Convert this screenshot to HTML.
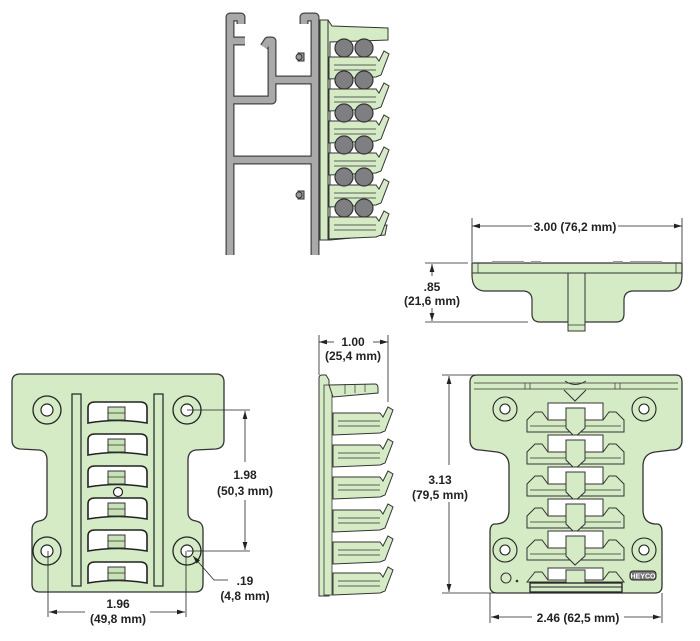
<!DOCTYPE html>
<html><head><meta charset="utf-8"><style>
html,body{margin:0;padding:0;background:#fff}
svg{display:block}
text{font-family:"Liberation Sans",sans-serif;font-weight:bold;font-size:12px;fill:#222;text-anchor:middle}
</style></head><body>
<svg width="700" height="641" viewBox="0 0 700 641" xmlns="http://www.w3.org/2000/svg">
<defs>
<marker id="a" viewBox="0 0 10 6" refX="10" refY="3" markerWidth="10" markerHeight="6" orient="auto-start-reverse"><path d="M0,0 L10,3 L0,6 Z" fill="#222"/></marker>
<g id="slotL">
<path d="M88,423 L88,408 Q88,402 95,402 L140,402 Q147,402 147,408 L147,423 Q118,418 88,423 Z" fill="#fff" stroke="#222" stroke-width="1.6"/>
<rect x="108" y="407" width="17" height="13" fill="#c8e2b8" stroke="#333"/>
<line x1="108" y1="413" x2="125" y2="413" stroke="#333" stroke-width="0.8"/>
</g>
<g id="slotR">
<rect x="548" y="403" width="55" height="20" fill="#fff" stroke="#333"/>
<path d="M527,432 L527,420 L535,412 L542,412 L548,420 L603,420 L609,412 L616,412 L624,420 L624,432 Z" fill="#d4ebc6" stroke="#333"/>
<line x1="530" y1="426" x2="621" y2="426" stroke="#333" stroke-width="0.8"/>
<path d="M566,408 L585,408 L585,428 L575,437 L566,428 Z" fill="#d4ebc6" stroke="#333"/>
</g>
<g id="fin">
<path d="M329,0 L376,0 L379,4 L384,-6 L389,-3 L381,18 L376,20 L329,22 Z" fill="#d4ebc6" stroke="#333" stroke-width="1"/>
<line x1="334" y1="8" x2="376" y2="8" stroke="#333" stroke-width="0.7"/>
<line x1="334" y1="13" x2="376" y2="13" stroke="#333" stroke-width="0.7"/>
</g>
</defs>

<g fill="none" stroke-linejoin="round">
<g stroke="#444" stroke-width="9">
<path d="M241,24 L241,17 L230,17 L230,255"/>
<path d="M230,41 L245,41"/>
<path d="M264,47 L268,41 L272,41 L272,100 L230,100"/>
<path d="M272,80 L312,80"/>
<path d="M230,160 L312,160"/>
<path d="M304,24 L304,17 L315,17 L315,255"/>
</g>
<g stroke="#a9a9a9" stroke-width="6.5">
<path d="M241,24 L241,17 L230,17 L230,255"/>
<path d="M230,41 L245,41"/>
<path d="M264,47 L268,41 L272,41 L272,100 L230,100"/>
<path d="M272,80 L312,80"/>
<path d="M230,160 L312,160"/>
<path d="M304,24 L304,17 L315,17 L315,255"/>
</g>
</g>
<g fill="#999" stroke="#333">
<rect x="298" y="53" width="6" height="8"/><circle cx="299" cy="57" r="3"/>
<rect x="298" y="191" width="6" height="8"/><circle cx="299" cy="195" r="3"/>
</g>
<path d="M320,20 L328,20 L332,26 L388,28 L388,40 L330,42 L330,228 L387,225 L385,235 L330,240 L320,240 Z" fill="#d4ebc6" stroke="#333"/>
<rect x="320" y="20" width="8" height="220" fill="#d4ebc6" stroke="#333"/>
<g>
<use href="#fin" transform="translate(0,57)"/>
<use href="#fin" transform="translate(0,89)"/>
<use href="#fin" transform="translate(0,121)"/>
<use href="#fin" transform="translate(0,153)"/>
<use href="#fin" transform="translate(0,185)"/>
<use href="#fin" transform="translate(0,217)"/>
</g>
<g fill="#7f7f82" stroke="#333" stroke-width="1.2">
<circle cx="344" cy="48" r="9"/><circle cx="364" cy="48" r="9"/>
<circle cx="344" cy="80" r="9"/><circle cx="364" cy="80" r="9"/>
<circle cx="344" cy="113" r="9"/><circle cx="364" cy="113" r="9"/>
<circle cx="344" cy="145" r="9"/><circle cx="364" cy="145" r="9"/>
<circle cx="344" cy="177" r="9"/><circle cx="364" cy="177" r="9"/>
<circle cx="344" cy="208" r="9"/><circle cx="364" cy="208" r="9"/>
</g>

<g stroke="#222" stroke-width="0.8" fill="none">
<line x1="472" y1="218" x2="472" y2="262"/><line x1="682" y1="218" x2="682" y2="262"/>
<line x1="472" y1="226" x2="532" y2="226" marker-start="url(#a)"/>
<line x1="618" y1="226" x2="682" y2="226" marker-end="url(#a)"/>
<line x1="425" y1="263" x2="468" y2="263"/><line x1="425" y1="322" x2="528" y2="322"/>
<line x1="432" y1="264" x2="432" y2="276" marker-start="url(#a)"/>
<line x1="432" y1="308" x2="432" y2="321" marker-end="url(#a)"/>
</g>
<text x="575" y="231">3.00 (76,2 mm)</text>
<text x="432" y="291">.85</text>
<text x="432" y="305">(21,6 mm)</text>
<path d="M472,263 L682,263 L682,275 Q682,290 670,291 L632,291 Q624,292 624,300 L624,314 Q624,322 616,322 L540,322 Q532,322 532,314 L532,300 Q532,292 524,291 L484,291 Q472,290 472,275 Z" fill="#d4ebc6" stroke="#333" stroke-width="1.2"/>
<line x1="472" y1="273" x2="682" y2="273" stroke="#333"/>
<line x1="478" y1="263" x2="478" y2="273" stroke="#333" stroke-width="0.7"/><line x1="676" y1="263" x2="676" y2="273" stroke="#333" stroke-width="0.7"/>
<rect x="492" y="261" width="32" height="2" fill="#999"/><rect x="531" y="261" width="10" height="2" fill="#999"/>
<rect x="613" y="261" width="10" height="2" fill="#999"/><rect x="630" y="261" width="32" height="2" fill="#999"/>
<rect x="568" y="273" width="17" height="58" fill="#d4ebc6" stroke="#333"/>
<line x1="568" y1="325" x2="585" y2="325" stroke="#333" stroke-width="0.7"/>

<g stroke="#222" stroke-width="0.8">
<line x1="319" y1="335" x2="319" y2="375"/><line x1="388" y1="335" x2="388" y2="402"/>
<line x1="319" y1="342" x2="334" y2="342" marker-start="url(#a)"/>
<line x1="373" y1="342" x2="388" y2="342" marker-end="url(#a)"/>
</g>
<text x="353" y="346">1.00</text>
<text x="353" y="360">(25,4 mm)</text>

<path d="M319,378 Q319,375 322,375 L326,375 L329,380 L329,596 L319,596 Z" fill="#d4ebc6" stroke="#333"/>
<rect x="324" y="385" width="8" height="210" fill="#d4ebc6" stroke="#333" stroke-width="0.8"/>
<path d="M329,385 L375,384 Q378,384 378,388 L378,393 L333,397 Z" fill="#d4ebc6" stroke="#333"/>
<g stroke="#333" stroke-width="0.7"><line x1="345" y1="384" x2="345" y2="394"/><line x1="355" y1="384" x2="355" y2="393"/><line x1="365" y1="384" x2="365" y2="392"/></g>
<use href="#fin" transform="translate(4,413)"/>
<use href="#fin" transform="translate(4,445)"/>
<use href="#fin" transform="translate(4,477)"/>
<use href="#fin" transform="translate(4,510)"/>
<use href="#fin" transform="translate(4,542)"/>
<use href="#fin" transform="translate(4,573)"/>

<path d="M20,374 L216,374 Q224,374 224,382 L224,440 Q224,448 216,449 L196,450 Q188,451 188,460 L188,512 Q188,520 196,521 L199,522 Q203,524 203,530 L203,584 Q203,592 195,592 L40,592 Q32,592 32,584 L32,530 Q32,524 36,522 L39,521 Q47,520 47,512 L47,460 Q47,451 39,450 L20,449 Q12,448 12,440 L12,382 Q12,374 20,374 Z" fill="#d4ebc6" stroke="#333" stroke-width="1.3"/>
<g fill="#d4ebc6" stroke="#222" stroke-width="1.3">
<circle cx="47" cy="410" r="14"/><circle cx="187" cy="410" r="14"/>
<circle cx="47" cy="551" r="14"/><circle cx="187" cy="551" r="14"/>
</g>
<g fill="#fff" stroke="#222" stroke-width="1.2">
<circle cx="47" cy="410" r="6"/><circle cx="187" cy="410" r="6"/>
<circle cx="47" cy="551" r="6"/><circle cx="187" cy="551" r="6"/>
<circle cx="118" cy="492" r="4.5"/>
</g>
<g fill="#d4ebc6" stroke="#222" stroke-width="1.2">
<rect x="72" y="394" width="9" height="192"/><rect x="154" y="394" width="9" height="192"/>
</g>
<use href="#slotL"/>
<use href="#slotL" transform="translate(0,32)"/>
<use href="#slotL" transform="translate(0,64)"/>
<use href="#slotL" transform="translate(0,96)"/>
<use href="#slotL" transform="translate(0,128)"/>
<use href="#slotL" transform="translate(0,160)"/>
<g stroke="#222" stroke-width="0.8" fill="none">
<line x1="187" y1="410" x2="250" y2="410"/><line x1="187" y1="551" x2="250" y2="551"/>
<line x1="245" y1="411" x2="245" y2="462" marker-start="url(#a)"/>
<line x1="245" y1="500" x2="245" y2="550" marker-end="url(#a)"/>
<line x1="48" y1="551" x2="48" y2="617"/><line x1="186" y1="551" x2="186" y2="617"/>
<line x1="49" y1="612" x2="85" y2="612" marker-start="url(#a)"/>
<line x1="150" y1="612" x2="185" y2="612" marker-end="url(#a)"/>
<path d="M228,580 L214,580 L193,556" marker-end="url(#a)"/>
</g>
<text x="245" y="479">1.98</text>
<text x="245" y="495">(50,3 mm)</text>
<text x="245" y="585">.19</text>
<text x="245" y="600">(4,8 mm)</text>
<text x="118" y="608">1.96</text>
<text x="118" y="623">(49,8 mm)</text>

<path d="M477,375 L676,375 Q682,375 682,382 L682,440 Q682,450 672,450 L655,452 Q643,454 643,466 L643,510 Q643,523 655,524 L658,524 Q662,525 662,532 L662,586 Q662,593 655,593 L497,593 Q490,593 490,586 L490,532 Q490,525 494,524 L497,524 Q509,523 509,510 L509,466 Q509,454 497,452 L480,450 Q470,450 470,440 L470,382 Q470,375 477,375 Z" fill="#d4ebc6" stroke="#333" stroke-width="1.3"/>
<path d="M474,383 L678,383 M474,389 L678,389" stroke="#333" stroke-width="0.8"/>
<path d="M565,381 Q575,388 586,381 M564,390 L575,401 L586,390" stroke="#333" stroke-width="1" fill="none"/>
<g stroke="#333" stroke-width="0.7"><line x1="525" y1="383" x2="525" y2="389"/><line x1="530" y1="383" x2="530" y2="389"/><line x1="615" y1="383" x2="615" y2="389"/><line x1="620" y1="383" x2="620" y2="389"/></g>
<g fill="#d4ebc6" stroke="#222" stroke-width="1.1">
<circle cx="505" cy="409" r="12"/><circle cx="644" cy="409" r="12"/>
<circle cx="505" cy="550" r="12"/><circle cx="644" cy="550" r="12"/>
</g>
<g fill="#fff" stroke="#222" stroke-width="1.1">
<circle cx="505" cy="409" r="5"/><circle cx="644" cy="409" r="5"/>
<circle cx="505" cy="550" r="5"/><circle cx="644" cy="550" r="5"/>
</g>
<use href="#slotR"/>
<use href="#slotR" transform="translate(0,32)"/>
<use href="#slotR" transform="translate(0,64)"/>
<use href="#slotR" transform="translate(0,96)"/>
<use href="#slotR" transform="translate(0,128)"/>
<g>
<rect x="548" y="568" width="55" height="16" fill="#fff" stroke="#333"/>
<path d="M527,582 L535,572 L542,572 L548,580 L603,580 L609,572 L616,572 L624,582 Z" fill="#d4ebc6" stroke="#333"/>
<rect x="566" y="570" width="19" height="14" fill="#d4ebc6" stroke="#333"/>
<rect x="530" y="583" width="92" height="9" fill="#d4ebc6" stroke="#222" stroke-width="1.3"/>
<line x1="530" y1="587" x2="622" y2="587" stroke="#222"/>
</g>
<circle cx="506" cy="578" r="5" fill="none" stroke="#333"/><circle cx="517" cy="581" r="1.3" fill="#333"/>
<rect x="630" y="571" width="26" height="9" rx="3" fill="#777" stroke="#222"/>
<text x="643" y="578.5" style="font-size:7px;fill:#fff">HEYCO</text>
<g stroke="#222" stroke-width="0.8" fill="none">
<line x1="442" y1="375" x2="475" y2="375"/><line x1="442" y1="593" x2="495" y2="593"/>
<line x1="449" y1="376" x2="449" y2="465" marker-start="url(#a)"/>
<line x1="449" y1="502" x2="449" y2="592" marker-end="url(#a)"/>
<line x1="490" y1="593" x2="490" y2="623"/><line x1="662" y1="593" x2="662" y2="623"/>
<line x1="491" y1="617" x2="532" y2="617" marker-start="url(#a)"/>
<line x1="624" y1="617" x2="661" y2="617" marker-end="url(#a)"/>
</g>
<text x="440" y="484">3.13</text>
<text x="440" y="499">(79,5 mm)</text>
<text x="578" y="622">2.46 (62,5 mm)</text>
</svg>
</body></html>
